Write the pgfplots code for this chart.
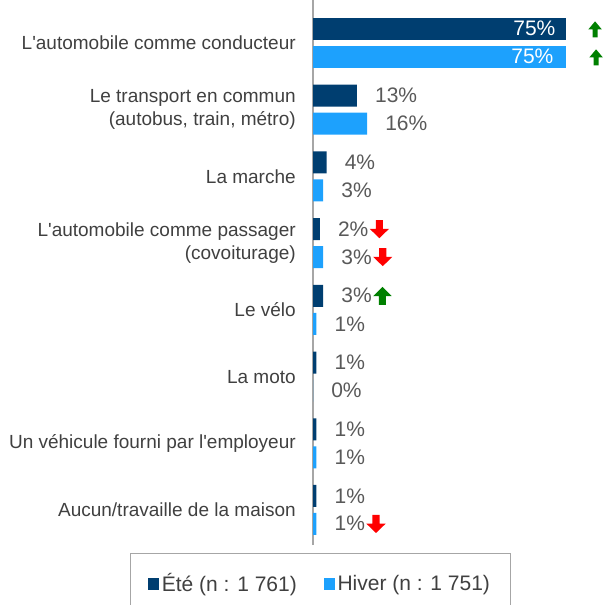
\documentclass[border=0pt]{standalone}
\usepackage{fontspec}
\setmainfont{Liberation Sans}
\usepackage{pgfplots}
\pgfplotsset{compat=1.18}
\definecolor{ete}{HTML}{003E70}
\definecolor{hiver}{HTML}{1DA1FD}
\definecolor{txt}{HTML}{404040}
\definecolor{val}{HTML}{595959}
\definecolor{axgray}{HTML}{A6A6A6}
\definecolor{upg}{HTML}{008000}
\definecolor{dnr}{HTML}{FF0000}
\newsavebox\upbox
\newsavebox\dnbox
\newsavebox\upsbox
\protected\def\UP{\usebox\upbox}
\protected\def\UPS{\usebox\upsbox}
\protected\def\DN{\usebox\dnbox}
\begin{document}
\sbox\upbox{\tikz[baseline=1.5pt] \fill[upg] (7pt,13.5pt) -- (14pt,6.5pt) -- (9.6pt,6.5pt) -- (9.6pt,0pt) -- (4.4pt,0pt) -- (4.4pt,6.5pt) -- (0pt,6.5pt) -- cycle;}%
\sbox\upsbox{\tikz[baseline=1.5pt] \fill[upg] (5pt,12pt) -- (10pt,6pt) -- (6.9pt,6pt) -- (6.9pt,0pt) -- (3.1pt,0pt) -- (3.1pt,6pt) -- (0pt,6pt) -- cycle;}%
\sbox\dnbox{\tikz[baseline=1.5pt] \fill[dnr] (7.25pt,0pt) -- (14.5pt,7pt) -- (9.9pt,7pt) -- (9.9pt,13.5pt) -- (4.6pt,13.5pt) -- (4.6pt,7pt) -- (0pt,7pt) -- cycle;}%
\begin{tikzpicture}
\useasboundingbox (0,0) rectangle (453.75pt,-453.75pt);
\begin{axis}[
  at={(234.75pt,-408.75pt)}, anchor=south west,
  scale only axis, width=202.5pt, height=408.75pt, clip=false,
  xbar, xmin=0, xmax=80, ymin=-0.525, ymax=7.645,
  axis x line=none, axis y line=left,
  y axis line style={-, draw=axgray, line width=1.5pt},
  ytick={0,...,7}, major tick length=0pt,
  yticklabels={Aucun/travaille de la maison, Un véhicule fourni par l\textquotesingle employeur, La moto, Le vélo, {L\textquotesingle automobile comme passager\\(covoiturage)}, La marche, {Le transport en commun\\(autobus, train, métro)}, L\textquotesingle automobile comme conducteur},
  yticklabel style={align=right, font=\fontsize{14.25pt}{17.25pt}\selectfont, text=txt, inner sep=0pt, xshift=-12.75pt},
  bar width=16.5pt,
  point meta=explicit symbolic,
  nodes near coords={\pgfplotspointmeta},
  nodes near coords style={anchor=west, inner sep=0pt, xshift=13.5pt, font=\fontsize{15.75pt}{18pt}\selectfont, text=val},
  legend style={at={(axis description cs:-0.6778,0)}, anchor=north west, yshift=-6pt, draw=axgray, line width=0.75pt, font=\fontsize{15.75pt}{18pt}\selectfont, text=txt, inner xsep=13pt, inner ysep=13pt, /tikz/every even column/.append style={column sep=18pt}},
  legend columns=2,
]
\addplot[fill=ete, draw=none, bar shift=10.5pt, legend image code/.code={\fill[ete] (0pt,-4.5pt) rectangle (8.5pt,4.5pt);}] coordinates {(13,6)[13\%] (4,5)[4\%] (2,4)[2\%\kern1pt\DN] (3,3)[3\%\kern1pt\UP] (1,2)[1\%] (1,1)[1\%] (1,0)[1\%]};
\addplot[fill=hiver, draw=none, bar shift=-10.5pt, legend image code/.code={\fill[hiver] (0pt,-4.5pt) rectangle (8.5pt,4.5pt);}] coordinates {(16,6)[16\%] (3,5)[3\%] (3,4)[3\%\kern1pt\DN] (1,3)[1\%] (0,2)[0\%] (1,1)[1\%] (1,0)[1\%\kern1pt\DN]};
\addplot[fill=ete, draw=none, bar shift=10.5pt, forget plot, nodes near coords style={xshift=-53.25pt}] coordinates {(75,7)[\textcolor{white}{75\%}\kern24.75pt\UPS]};
\addplot[fill=hiver, draw=none, bar shift=-10.5pt, forget plot, nodes near coords style={xshift=-54.75pt}] coordinates {(75,7)[\textcolor{white}{75\%}\kern27pt\UPS]};
\legend{Été (n : 1 761), Hiver (n : 1 751)}
\end{axis}
\end{tikzpicture}
\end{document}
